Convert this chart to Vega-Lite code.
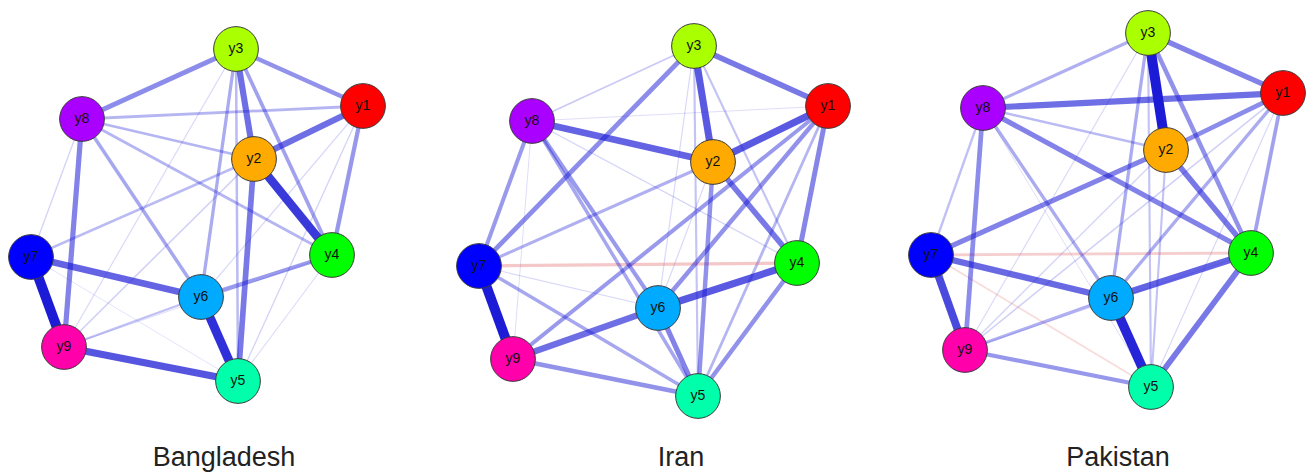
{
  "$schema": "https://vega.github.io/schema/vega-lite/v6.json",
  "width": 1310,
  "height": 473,
  "autosize": {"type": "fit", "contains": "padding"},
  "padding": 0,
  "background": "white",
  "view": {"stroke": null},
  "config": {"font": "Liberation Sans"},
  "datasets": {
    "nodes": [
      {"id": "B1", "node": "y1", "x": 363, "y": 106},
      {"id": "B2", "node": "y2", "x": 254, "y": 159},
      {"id": "B3", "node": "y3", "x": 236, "y": 49},
      {"id": "B4", "node": "y4", "x": 332, "y": 255},
      {"id": "B5", "node": "y5", "x": 238, "y": 381},
      {"id": "B6", "node": "y6", "x": 201, "y": 297},
      {"id": "B7", "node": "y7", "x": 31, "y": 257},
      {"id": "B8", "node": "y8", "x": 82, "y": 119},
      {"id": "B9", "node": "y9", "x": 64, "y": 347},
      {"id": "I1", "node": "y1", "x": 828, "y": 106},
      {"id": "I2", "node": "y2", "x": 713, "y": 162},
      {"id": "I3", "node": "y3", "x": 694, "y": 46},
      {"id": "I4", "node": "y4", "x": 797, "y": 263},
      {"id": "I5", "node": "y5", "x": 698, "y": 396},
      {"id": "I6", "node": "y6", "x": 658, "y": 308},
      {"id": "I7", "node": "y7", "x": 479, "y": 266},
      {"id": "I8", "node": "y8", "x": 532, "y": 121},
      {"id": "I9", "node": "y9", "x": 513, "y": 359},
      {"id": "P1", "node": "y1", "x": 1283, "y": 93},
      {"id": "P2", "node": "y2", "x": 1166, "y": 150},
      {"id": "P3", "node": "y3", "x": 1148, "y": 33},
      {"id": "P4", "node": "y4", "x": 1251, "y": 253},
      {"id": "P5", "node": "y5", "x": 1151, "y": 387},
      {"id": "P6", "node": "y6", "x": 1111, "y": 298},
      {"id": "P7", "node": "y7", "x": 931, "y": 255},
      {"id": "P8", "node": "y8", "x": 983, "y": 108},
      {"id": "P9", "node": "y9", "x": 965, "y": 350}
    ],
    "edges": [
      {"a": "B3", "b": "B9", "w": 0.08, "s": "pos"},
      {"a": "B1", "b": "B5", "w": 0.1, "s": "pos"},
      {"a": "B1", "b": "B6", "w": 0.08, "s": "pos"},
      {"a": "B8", "b": "B7", "w": 0.1, "s": "pos"},
      {"a": "B4", "b": "B5", "w": 0.07, "s": "pos"},
      {"a": "B4", "b": "B9", "w": 0.06, "s": "pos"},
      {"a": "B7", "b": "B5", "w": 0.05, "s": "pos"},
      {"a": "B2", "b": "B9", "w": 0.12, "s": "pos"},
      {"a": "B6", "b": "B9", "w": 0.2, "s": "pos"},
      {"a": "B3", "b": "B5", "w": 0.22, "s": "pos"},
      {"a": "B2", "b": "B7", "w": 0.22, "s": "pos"},
      {"a": "B1", "b": "B8", "w": 0.25, "s": "pos"},
      {"a": "B2", "b": "B8", "w": 0.25, "s": "pos"},
      {"a": "B8", "b": "B4", "w": 0.25, "s": "pos"},
      {"a": "B3", "b": "B6", "w": 0.3, "s": "pos"},
      {"a": "B8", "b": "B6", "w": 0.32, "s": "pos"},
      {"a": "B3", "b": "B4", "w": 0.35, "s": "pos"},
      {"a": "B6", "b": "B4", "w": 0.38, "s": "pos"},
      {"a": "B1", "b": "B4", "w": 0.4, "s": "pos"},
      {"a": "B3", "b": "B1", "w": 0.42, "s": "pos"},
      {"a": "B3", "b": "B8", "w": 0.45, "s": "pos"},
      {"a": "B8", "b": "B9", "w": 0.5, "s": "pos"},
      {"a": "B2", "b": "B5", "w": 0.55, "s": "pos"},
      {"a": "B3", "b": "B2", "w": 0.6, "s": "pos"},
      {"a": "B1", "b": "B2", "w": 0.6, "s": "pos"},
      {"a": "B7", "b": "B6", "w": 0.65, "s": "pos"},
      {"a": "B9", "b": "B5", "w": 0.72, "s": "pos"},
      {"a": "B2", "b": "B4", "w": 0.85, "s": "pos"},
      {"a": "B6", "b": "B5", "w": 0.9, "s": "pos"},
      {"a": "B7", "b": "B9", "w": 1.0, "s": "pos"},
      {"a": "I1", "b": "I8", "w": 0.06, "s": "pos"},
      {"a": "I9", "b": "I8", "w": 0.06, "s": "pos"},
      {"a": "I3", "b": "I6", "w": 0.08, "s": "pos"},
      {"a": "I2", "b": "I6", "w": 0.08, "s": "pos"},
      {"a": "I7", "b": "I6", "w": 0.08, "s": "pos"},
      {"a": "I8", "b": "I4", "w": 0.1, "s": "pos"},
      {"a": "I3", "b": "I8", "w": 0.15, "s": "pos"},
      {"a": "I3", "b": "I5", "w": 0.18, "s": "pos"},
      {"a": "I3", "b": "I4", "w": 0.18, "s": "pos"},
      {"a": "I1", "b": "I5", "w": 0.25, "s": "pos"},
      {"a": "I2", "b": "I7", "w": 0.28, "s": "pos"},
      {"a": "I7", "b": "I4", "w": 0.3, "s": "neg"},
      {"a": "I8", "b": "I5", "w": 0.32, "s": "pos"},
      {"a": "I7", "b": "I5", "w": 0.32, "s": "pos"},
      {"a": "I8", "b": "I7", "w": 0.38, "s": "pos"},
      {"a": "I8", "b": "I6", "w": 0.38, "s": "pos"},
      {"a": "I1", "b": "I9", "w": 0.38, "s": "pos"},
      {"a": "I1", "b": "I6", "w": 0.42, "s": "pos"},
      {"a": "I2", "b": "I5", "w": 0.42, "s": "pos"},
      {"a": "I9", "b": "I5", "w": 0.42, "s": "pos"},
      {"a": "I4", "b": "I5", "w": 0.42, "s": "pos"},
      {"a": "I3", "b": "I7", "w": 0.45, "s": "pos"},
      {"a": "I1", "b": "I4", "w": 0.48, "s": "pos"},
      {"a": "I6", "b": "I5", "w": 0.5, "s": "pos"},
      {"a": "I3", "b": "I1", "w": 0.55, "s": "pos"},
      {"a": "I2", "b": "I4", "w": 0.55, "s": "pos"},
      {"a": "I6", "b": "I9", "w": 0.6, "s": "pos"},
      {"a": "I8", "b": "I2", "w": 0.65, "s": "pos"},
      {"a": "I3", "b": "I2", "w": 0.7, "s": "pos"},
      {"a": "I1", "b": "I2", "w": 0.7, "s": "pos"},
      {"a": "I6", "b": "I4", "w": 0.7, "s": "pos"},
      {"a": "I7", "b": "I9", "w": 1.0, "s": "pos"},
      {"a": "P8", "b": "P5", "w": 0.06, "s": "pos"},
      {"a": "P4", "b": "P9", "w": 0.06, "s": "pos"},
      {"a": "P3", "b": "P9", "w": 0.08, "s": "pos"},
      {"a": "P1", "b": "P5", "w": 0.08, "s": "pos"},
      {"a": "P2", "b": "P9", "w": 0.1, "s": "pos"},
      {"a": "P1", "b": "P9", "w": 0.12, "s": "pos"},
      {"a": "P7", "b": "P5", "w": 0.15, "s": "neg"},
      {"a": "P3", "b": "P5", "w": 0.18, "s": "pos"},
      {"a": "P2", "b": "P5", "w": 0.18, "s": "pos"},
      {"a": "P8", "b": "P7", "w": 0.2, "s": "pos"},
      {"a": "P8", "b": "P2", "w": 0.22, "s": "pos"},
      {"a": "P7", "b": "P4", "w": 0.25, "s": "neg"},
      {"a": "P3", "b": "P8", "w": 0.28, "s": "pos"},
      {"a": "P6", "b": "P9", "w": 0.28, "s": "pos"},
      {"a": "P3", "b": "P6", "w": 0.3, "s": "pos"},
      {"a": "P8", "b": "P6", "w": 0.3, "s": "pos"},
      {"a": "P1", "b": "P6", "w": 0.3, "s": "pos"},
      {"a": "P1", "b": "P4", "w": 0.35, "s": "pos"},
      {"a": "P9", "b": "P5", "w": 0.4, "s": "pos"},
      {"a": "P3", "b": "P4", "w": 0.42, "s": "pos"},
      {"a": "P8", "b": "P9", "w": 0.45, "s": "pos"},
      {"a": "P1", "b": "P2", "w": 0.45, "s": "pos"},
      {"a": "P3", "b": "P1", "w": 0.5, "s": "pos"},
      {"a": "P8", "b": "P4", "w": 0.5, "s": "pos"},
      {"a": "P2", "b": "P7", "w": 0.5, "s": "pos"},
      {"a": "P2", "b": "P4", "w": 0.55, "s": "pos"},
      {"a": "P4", "b": "P5", "w": 0.55, "s": "pos"},
      {"a": "P8", "b": "P1", "w": 0.6, "s": "pos"},
      {"a": "P7", "b": "P6", "w": 0.62, "s": "pos"},
      {"a": "P6", "b": "P4", "w": 0.65, "s": "pos"},
      {"a": "P7", "b": "P9", "w": 0.78, "s": "pos"},
      {"a": "P6", "b": "P5", "w": 0.95, "s": "pos"},
      {"a": "P3", "b": "P2", "w": 1.0, "s": "pos"}
    ],
    "titles": [
      {"label": "Bangladesh", "x": 224, "y": 466},
      {"label": "Iran", "x": 681, "y": 466},
      {"label": "Pakistan", "x": 1118, "y": 466}
    ]
  },
  "layer": [
    {
      "data": {"name": "edges"},
      "transform": [
        {"lookup": "a", "from": {"data": {"name": "nodes"}, "key": "id", "fields": ["x", "y"]}, "as": ["xa", "ya"]},
        {"lookup": "b", "from": {"data": {"name": "nodes"}, "key": "id", "fields": ["x", "y"]}, "as": ["xb", "yb"]}
      ],
      "mark": {"type": "rule", "strokeCap": "butt"},
      "encoding": {
        "x": {"field": "xa", "type": "quantitative", "scale": {"domain": [0, 1310]}, "axis": null},
        "y": {"field": "ya", "type": "quantitative", "scale": {"domain": [0, 473], "reverse": true}, "axis": null},
        "x2": {"field": "xb"},
        "y2": {"field": "yb"},
        "stroke": {"field": "s", "type": "nominal", "scale": {"domain": ["pos", "neg"], "range": ["#1c1cd6", "#e06a6a"]}, "legend": null},
        "strokeWidth": {"field": "w", "type": "quantitative", "scale": {"domain": [0, 1], "range": [0.4, 10]}, "legend": null},
        "opacity": {"field": "w", "type": "quantitative", "scale": {"domain": [0, 1], "range": [0.1, 1]}, "legend": null}
      }
    },
    {
      "data": {"name": "nodes"},
      "mark": {"type": "point", "shape": "circle", "filled": true, "size": 2000, "stroke": "#3a3a3a", "strokeWidth": 1, "opacity": 1},
      "encoding": {
        "x": {"field": "x", "type": "quantitative", "scale": {"domain": [0, 1310]}, "axis": null},
        "y": {"field": "y", "type": "quantitative", "scale": {"domain": [0, 473], "reverse": true}, "axis": null},
        "fill": {"field": "node", "type": "nominal", "scale": {"domain": ["y1", "y2", "y3", "y4", "y5", "y6", "y7", "y8", "y9"], "range": ["#FF0000", "#FFAA00", "#AAFF00", "#00FF00", "#00FFAA", "#00AAFF", "#0000FF", "#AA00FF", "#FF00AA"]}, "legend": null}
      }
    },
    {
      "data": {"name": "nodes"},
      "mark": {"type": "text", "fontSize": 14, "font": "Liberation Sans", "color": "#111111", "align": "center", "baseline": "middle"},
      "encoding": {
        "x": {"field": "x", "type": "quantitative", "scale": {"domain": [0, 1310]}, "axis": null},
        "y": {"field": "y", "type": "quantitative", "scale": {"domain": [0, 473], "reverse": true}, "axis": null},
        "text": {"field": "node", "type": "nominal"}
      }
    },
    {
      "data": {"name": "titles"},
      "mark": {"type": "text", "fontSize": 27, "font": "Liberation Sans", "color": "#222222", "align": "center", "baseline": "alphabetic"},
      "encoding": {
        "x": {"field": "x", "type": "quantitative", "scale": {"domain": [0, 1310]}, "axis": null},
        "y": {"field": "y", "type": "quantitative", "scale": {"domain": [0, 473], "reverse": true}, "axis": null},
        "text": {"field": "label", "type": "nominal"}
      }
    }
  ]
}
